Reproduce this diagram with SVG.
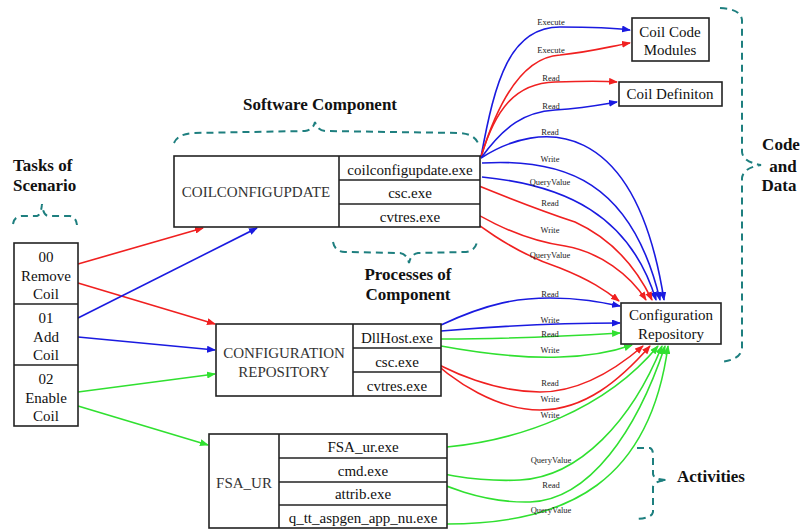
<svg xmlns="http://www.w3.org/2000/svg" width="803" height="529" viewBox="0 0 803 529">
<style>
.t{font-family:'Liberation Serif','DejaVu Serif','Noto Serif',serif;font-size:15px;fill:#333;text-anchor:middle}
.tb{font-family:'Liberation Serif','DejaVu Serif','Noto Serif',serif;font-size:15px;fill:#111;text-anchor:middle}
.h{font-family:'Liberation Serif','DejaVu Serif','Noto Serif',serif;font-size:17px;font-weight:bold;fill:#111}
.lb{font-family:'Liberation Serif','DejaVu Serif','Noto Serif',serif;font-size:8.5px;fill:#222;text-anchor:middle}
.box{fill:#fff;stroke:#222;stroke-width:1.6}
.r{fill:none;stroke:#f02020;stroke-width:1.6;marker-end:url(#ar)}
.b{fill:none;stroke:#1a1ae0;stroke-width:1.6;marker-end:url(#ab)}
.g{fill:none;stroke:#30e030;stroke-width:1.6;marker-end:url(#ag)}
.br{fill:none;stroke:#1e7f7f;stroke-width:2;stroke-dasharray:7 5}
</style>
<defs>
<marker id="ar" markerUnits="userSpaceOnUse" markerWidth="9" markerHeight="7" refX="8" refY="3.5" orient="auto"><path d="M0,0 L9,3.5 L0,7 z" fill="#f02020"/></marker>
<marker id="ab" markerUnits="userSpaceOnUse" markerWidth="9" markerHeight="7" refX="8" refY="3.5" orient="auto"><path d="M0,0 L9,3.5 L0,7 z" fill="#1a1ae0"/></marker>
<marker id="ag" markerUnits="userSpaceOnUse" markerWidth="9" markerHeight="7" refX="8" refY="3.5" orient="auto"><path d="M0,0 L9,3.5 L0,7 z" fill="#30e030"/></marker>
</defs>
<rect width="803" height="529" fill="#fff"/>

<g id="annotations">
<text class="h" x="13" y="171">Tasks of</text>
<text class="h" x="13" y="191">Scenario</text>
<path class="br" d="M13,224 Q14,217 21,216 L37,216 Q41,215 42,204 Q43,215 48,216 L70,216 Q76,217 77,225"/>
<text class="h" x="320" y="110" text-anchor="middle">Software Component</text>
<path class="br" d="M174,143 Q178,134 193,133 L305,131 Q313,130 315,122 Q317,130 325,131 L460,133 Q474,134 478,143"/>
<path class="br" d="M333,242 Q335,252 345,252 L400,253 Q407,254 409,263 Q411,254 418,253 L466,252 Q475,251 477,242"/>
<text class="h" x="408" y="280" text-anchor="middle">Processes of</text>
<text class="h" x="408" y="300" text-anchor="middle">Component</text>
<path class="br" d="M720,8 Q741,9 742,20 L742,152 Q743,162 761,165 Q743,168 742,178 L742,348 Q741,360 720,362"/>
<text class="h" x="781" y="150" text-anchor="middle">Code</text>
<text class="h" x="783" y="172" text-anchor="middle">and</text>
<text class="h" x="779" y="191" text-anchor="middle">Data</text>
<path class="br" d="M637,448 L650,448 Q653,449 653,455 L653,474 Q654,480 667,480 Q654,481 653,487 L653,512 Q652,518 637,519"/>
<text class="h" x="677" y="482">Activities</text>
</g>

<g id="connectors">
<path class="r" d="M78,264 L203,228"/>
<path class="r" d="M78,283 L215,324"/>
<path class="b" d="M78,318 L257,228"/>
<path class="b" d="M78,337 L215,350"/>
<path class="g" d="M78,392 L215,374"/>
<path class="g" d="M78,406 L208,445"/>

<path class="b" d="M481,157 C495,80 510,27 560,27 C595,27 615,28 630,30"/>
<path class="r" d="M481,157 C500,95 525,57 560,55 C590,52 612,46 630,43"/>
<path class="r" d="M481,157 C495,110 515,83 555,82 C585,81 605,81 617,82"/>
<path class="b" d="M481,158 C505,125 525,112 555,110 C585,108 605,104 617,102"/>

<path class="b" d="M481,158 C540,120 635,115 664,300"/>
<path class="b" d="M482,163 C565,158 632,182 660,300"/>
<path class="b" d="M482,177 C565,185 630,215 656,300"/>
<path class="r" d="M445,172 C500,195 545,212 575,222 C610,238 635,265 652,300"/>
<path class="r" d="M427,180 C470,215 520,240 565,246 C600,252 630,275 646,300"/>
<path class="r" d="M427,180 C470,225 520,255 560,268 C590,280 605,290 619,301"/>

<path class="b" d="M441,325 C490,302 520,298 550,298 C580,298 600,302 620,306"/>
<path class="b" d="M441,331 C500,326 570,323 620,323"/>
<path class="g" d="M441,339 C500,339 570,336 620,333"/>
<path class="g" d="M441,346 C490,355 530,358 560,357 C595,356 615,351 632,345"/>
<path class="r" d="M413,349 C450,375 500,392 540,392 C580,392 615,370 643,346"/>
<path class="r" d="M420,349 C455,385 500,410 540,410 C585,410 620,380 650,346"/>

<path class="g" d="M447,447 C520,440 605,410 658,346"/>
<path class="g" d="M385,457 C430,475 480,482 520,480 C580,477 632,420 662,346"/>
<path class="g" d="M393,457 C440,490 490,503 530,502 C590,500 637,430 665,346"/>
<path class="g" d="M447,524 C570,524 650,480 668,346"/>
</g>

<g id="labels">
<text class="lb" x="551" y="25">Execute</text>
<text class="lb" x="551" y="53">Execute</text>
<text class="lb" x="551" y="81">Read</text>
<text class="lb" x="551" y="109">Read</text>
<text class="lb" x="550" y="135">Read</text>
<text class="lb" x="550" y="162">Write</text>
<text class="lb" x="550" y="185">QueryValue</text>
<text class="lb" x="550" y="206">Read</text>
<text class="lb" x="550" y="233">Write</text>
<text class="lb" x="550" y="258">QueryValue</text>
<text class="lb" x="550" y="297">Read</text>
<text class="lb" x="550" y="323">Write</text>
<text class="lb" x="550" y="337">Read</text>
<text class="lb" x="550" y="353">Write</text>
<text class="lb" x="550" y="386">Read</text>
<text class="lb" x="550" y="402">Write</text>
<text class="lb" x="550" y="418">Write</text>
<text class="lb" x="551" y="463">QueryValue</text>
<text class="lb" x="551" y="488">Read</text>
<text class="lb" x="551" y="513">QueryValue</text>
</g>

<g id="tasks">
<rect class="box" x="14" y="243" width="64" height="183"/>
<line x1="14" y1="304" x2="78" y2="304" stroke="#222" stroke-width="1.6"/>
<line x1="14" y1="365" x2="78" y2="365" stroke="#222" stroke-width="1.6"/>
<text class="tb" x="46" y="262">00</text>
<text class="tb" x="46" y="281">Remove</text>
<text class="tb" x="46" y="299">Coil</text>
<text class="tb" x="46" y="323">01</text>
<text class="tb" x="46" y="342">Add</text>
<text class="tb" x="46" y="360">Coil</text>
<text class="tb" x="46" y="384">02</text>
<text class="tb" x="46" y="403">Enable</text>
<text class="tb" x="46" y="421">Coil</text>
</g>

<g id="coilconfigupdate">
<rect class="box" x="174" y="156" width="306" height="71"/>
<line x1="339" y1="156" x2="339" y2="227" stroke="#222" stroke-width="1.6"/>
<line x1="339" y1="180" x2="480" y2="180" stroke="#222" stroke-width="1.6"/>
<line x1="339" y1="204" x2="480" y2="204" stroke="#222" stroke-width="1.6"/>
<text class="t" x="256" y="197">COILCONFIGUPDATE</text>
<text class="tb" x="410" y="175">coilconfigupdate.exe</text>
<text class="tb" x="410" y="198">csc.exe</text>
<text class="tb" x="410" y="222">cvtres.exe</text>
</g>

<g id="configrepo-component">
<rect class="box" x="216" y="324" width="225" height="72"/>
<line x1="353" y1="324" x2="353" y2="396" stroke="#222" stroke-width="1.6"/>
<line x1="353" y1="348" x2="441" y2="348" stroke="#222" stroke-width="1.6"/>
<line x1="353" y1="372" x2="441" y2="372" stroke="#222" stroke-width="1.6"/>
<text class="t" x="284" y="358">CONFIGURATION</text>
<text class="t" x="284" y="377">REPOSITORY</text>
<text class="tb" x="397" y="343">DllHost.exe</text>
<text class="tb" x="397" y="367">csc.exe</text>
<text class="tb" x="397" y="391">cvtres.exe</text>
</g>

<g id="fsa_ur">
<rect class="box" x="209" y="434" width="238" height="94"/>
<line x1="279" y1="434" x2="279" y2="528" stroke="#222" stroke-width="1.6"/>
<line x1="279" y1="458" x2="447" y2="458" stroke="#222" stroke-width="1.6"/>
<line x1="279" y1="482" x2="447" y2="482" stroke="#222" stroke-width="1.6"/>
<line x1="279" y1="505" x2="447" y2="505" stroke="#222" stroke-width="1.6"/>
<text class="t" x="244" y="488">FSA_UR</text>
<text class="tb" x="363" y="452">FSA_ur.exe</text>
<text class="tb" x="363" y="476">cmd.exe</text>
<text class="tb" x="363" y="499">attrib.exe</text>
<text class="tb" x="363" y="523">q_tt_aspgen_app_nu.exe</text>
</g>

<g id="coil-code-modules">
<rect class="box" x="632" y="18" width="77" height="43"/>
<text class="tb" x="670" y="37">Coil Code</text>
<text class="tb" x="670" y="55">Modules</text>
</g>

<g id="coil-definiton">
<rect class="box" x="619" y="82" width="103" height="24"/>
<text class="tb" x="670" y="99">Coil Definiton</text>
</g>

<g id="configuration-repository">
<rect class="box" x="621" y="303" width="100" height="41"/>
<text class="tb" x="671" y="320">Configuration</text>
<text class="tb" x="671" y="339">Repository</text>
</g>
</svg>
